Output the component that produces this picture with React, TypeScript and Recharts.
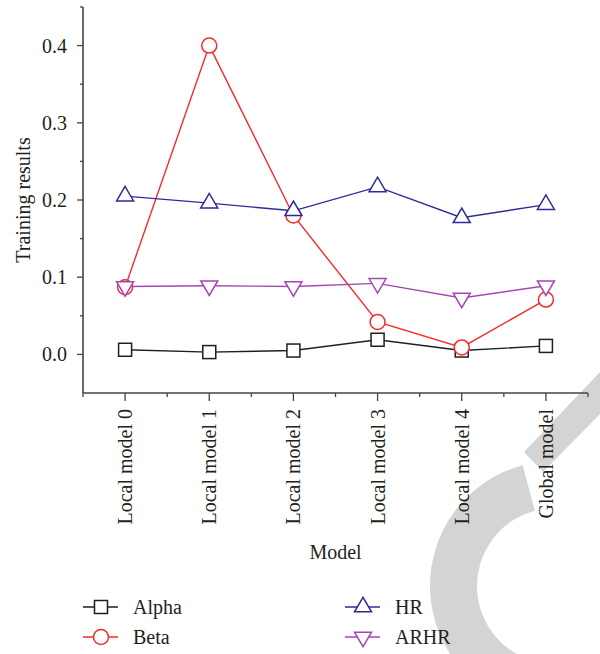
import { LineChart, Line, XAxis, YAxis, Legend } from "recharts";

const categories = [
  "Local model 0",
  "Local model 1",
  "Local model 2",
  "Local model 3",
  "Local model 4",
  "Global model",
];
const alpha = [0.006, 0.003, 0.005, 0.019, 0.005, 0.011];
const beta = [0.087, 0.4, 0.18, 0.042, 0.009, 0.071];
const hr = [0.205, 0.196, 0.186, 0.217, 0.177, 0.194];
const arhr = [0.088, 0.089, 0.088, 0.092, 0.073, 0.089];

const yMajor = [0, 0.1, 0.2, 0.3, 0.4];
const yMinor = [0.05, 0.15, 0.25, 0.35, 0.45];

const series = ["Alpha", "Beta", "HR", "ARHR"];

const FONT = '"Liberation Serif", "Times New Roman", serif';
const TEXT = "#231f20";
const AXIS = "#444";

const COLORS: Record<string, string> = {
  Alpha: "#1f1f1f",
  Beta: "#f52a2a",
  HR: "#2e2b96",
  ARHR: "#a547b2",
};

const data = categories.map((name, i) => ({
  idx: i,
  name,
  Alpha: alpha[i],
  Beta: beta[i],
  HR: hr[i],
  ARHR: arhr[i],
}));

const xTicks = categories.flatMap((_, i) => [i - 0.5, i]).concat(categories.length - 0.5);
const yTicks = [...yMajor, ...yMinor].sort((a, b) => a - b);

// marker shapes, centred on (cx, cy)
const Marker = ({ name, cx, cy }: { name: string; cx: number; cy: number }) => {
  const c = COLORS[name];
  const common = { fill: "#fff", stroke: c, strokeWidth: 1.5 };
  if (name === "Alpha") return <rect x={cx - 6.5} y={cy - 6.5} width={13} height={13} {...common} />;
  if (name === "Beta") return <circle cx={cx} cy={cy} r={7.5} {...common} />;
  if (name === "HR")
    return <polygon points={`${cx},${cy - 9.7} ${cx - 8.5},${cy + 4.8} ${cx + 8.5},${cy + 4.8}`} {...common} />;
  return <polygon points={`${cx - 8.5},${cy - 4.8} ${cx + 8.5},${cy - 4.8} ${cx},${cy + 9.7}`} {...common} />;
};

const XTick = ({ x, y, payload }: any) => {
  const v = payload.value as number;
  const major = Number.isInteger(v);
  return (
    <g>
      <line x1={x} x2={x} y1={y} y2={y + (major ? 8 : 4)} stroke={AXIS} strokeWidth={1.3} />
      {major && (
        <text
          transform={`translate(${x},${y + 16}) rotate(-90)`}
          textAnchor="end"
          dy="0.35em"
          fontSize={20}
          fontFamily={FONT}
          fill={TEXT}
        >
          {categories[v]}
        </text>
      )}
    </g>
  );
};

const YTick = ({ x, y, payload }: any) => {
  const v = payload.value as number;
  const major = yMajor.includes(v);
  return (
    <g>
      <line x1={x - (major ? 6 : 3)} x2={x} y1={y} y2={y} stroke={AXIS} strokeWidth={1.3} />
      {major && (
        <text x={x - 16} y={y} dy="0.35em" textAnchor="end" fontSize={20} fontFamily={FONT} fill={TEXT}>
          {v.toFixed(1)}
        </text>
      )}
    </g>
  );
};

const LegendBox = () => (
  <div
    style={{
      display: "grid",
      gridTemplateColumns: "262px 255px",
      gridTemplateRows: "30px 30px",
      gridAutoFlow: "column",
      paddingLeft: 83,
      fontFamily: FONT,
      fontSize: 20,
      color: TEXT,
    }}
  >
    {series.map((s) => (
      <div key={s} style={{ display: "flex", alignItems: "center" }}>
        <svg width={36} height={22}>
          <line x1={0} x2={35} y1={11} y2={11} stroke={COLORS[s]} strokeWidth={1.4} />
          <Marker name={s} cx={18} cy={11} />
        </svg>
        <span style={{ marginLeft: 14 }}>{s}</span>
      </div>
    ))}
  </div>
);

const Watermark = () => {
  const cx = 555;
  const cy = 586;
  const R = 125;
  const r = 78;
  const a1 = (-105 * Math.PI) / 180;
  const a2 = (100 * Math.PI) / 180;
  const pt = (rad: number, a: number) => `${cx + rad * Math.cos(a)},${cy + rad * Math.sin(a)}`;
  const ring = `M${pt(R, a1)} A${R},${R} 0 0 0 ${pt(R, a2)} L${pt(r, a2)} A${r},${r} 0 0 1 ${pt(r, a1)} Z`;
  return (
    <svg width={600} height={654} style={{ position: "absolute", left: 0, top: 0 }}>
      <path d={ring} fill="#d4d4d4" />
      <polygon points="524,452 543,472 600,414 600,372" fill="#d4d4d4" />
    </svg>
  );
};

export default function App() {
  return (
    <div style={{ position: "absolute", left: 0, top: 0, width: 600, height: 654 }}>
      <Watermark />
      <div style={{ position: "absolute", left: 0, top: 0 }}>
        <LineChart width={600} height={654} data={data} margin={{ top: 7, right: 12, left: 13, bottom: 91 }}>
          <XAxis
            dataKey="idx"
            type="number"
            domain={[-0.5, 5.5]}
            ticks={xTicks}
            interval={0}
            allowDataOverflow
            height={170}
            tickSize={0}
            tickMargin={0}
            tickLine={false}
            tick={(p: any) => <XTick {...p} />}
            axisLine={{ stroke: AXIS, strokeWidth: 1.6 }}
            label={{
              value: "Model",
              position: "insideBottom",
              offset: 4,
              fontSize: 20,
              fontFamily: FONT,
              fill: TEXT,
            }}
          />
          <YAxis
            type="number"
            domain={[-0.05, 0.45]}
            ticks={yTicks}
            interval={0}
            allowDataOverflow
            width={70}
            tickSize={0}
            tickMargin={0}
            tickLine={false}
            tick={(p: any) => <YTick {...p} />}
            axisLine={{ stroke: AXIS, strokeWidth: 1.6 }}
            label={{
              content: ({ viewBox }: any) => (
                <text
                  transform={`translate(${viewBox.x + 10},${viewBox.y + viewBox.height / 2}) rotate(-90)`}
                  textAnchor="middle"
                  dy="0.35em"
                  fontSize={20}
                  fontFamily={FONT}
                  fill={TEXT}
                >
                  Training results
                </text>
              ),
            }}
          />
          {series.map((s) => (
            <Line
              key={s}
              dataKey={s}
              name={s}
              stroke={COLORS[s]}
              strokeWidth={1.4}
              isAnimationActive={false}
              activeDot={false}
              dot={(p: any) => <Marker key={`${s}-${p.index}`} name={s} cx={p.cx} cy={p.cy} />}
            />
          ))}
          <Legend
            layout="vertical"
            align="center"
            verticalAlign="middle"
            wrapperStyle={{ left: 0, top: 592, width: 600, height: 60 }}
            content={() => <LegendBox />}
          />
        </LineChart>
      </div>
    </div>
  );
}
